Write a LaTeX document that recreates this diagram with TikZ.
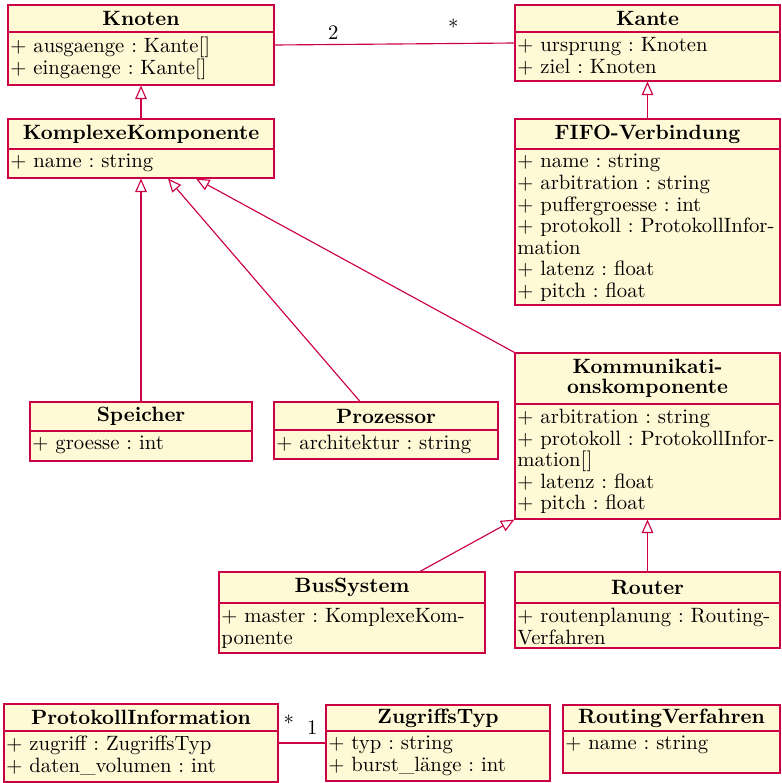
\documentclass[tikz,border=0pt]{standalone}
\usetikzlibrary{arrows.meta,fit}
\definecolor{umlred}{RGB}{204,0,68}
\definecolor{umlfill}{RGB}{255,249,214}
\tikzset{
  clsbox/.style={draw=umlred, fill=umlfill, line width=0.55pt, inner sep=0pt, rectangle},
  clsdiv/.style={draw=umlred, line width=0.55pt},
  clstitle/.style={font=\fontsize{10}{9.4}\selectfont\bfseries, align=center, inner sep=0pt},
  clsattr/.style={anchor=north west, align=left, inner xsep=1pt, inner ysep=2.4pt,
    font=\fontsize{10}{10.4}\selectfont},
  inh/.style={draw=umlred, line width=0.55pt, -{Triangle[open, length=6.5pt, width=5.6pt]}},
  assoc/.style={draw=umlred, line width=0.55pt},
  mult/.style={inner sep=1pt},
}
% class box: name, x1, y1, x2, ydiv, y2, title, attributes
\newcommand\umlclass[8]{%
  \node[clsbox, fit={(#2,#3) (#4,#6)}] (#1) {};
  \draw[clsdiv] (#2,#5) -- (#4,#5);
  \node[clstitle] (#1-t) at ({(#2+#4)/2},{(#3+#5)/2}) {#7};
  \pgfmathsetmacro\attrwidth{(#4-#2)*0.4831-2}%
  \node[clsattr, text width=\attrwidth pt] (#1-a) at (#2,#5) {#8};
}
\frenchspacing
\begin{document}
\begin{tikzpicture}[x=0.4831pt, y=-0.4831pt]
\useasboundingbox (0,0) rectangle (781,783);

\umlclass{knoten}{8}{5}{274}{32}{85}{Knoten}
  {+ ausgaenge : Kante[]\\+ eingaenge : Kante[]}
\umlclass{kk}{8}{119}{274}{149}{178}{KomplexeKomponente}
  {+ name : string}
\umlclass{kante}{515}{5}{780}{32}{81}{Kante}
  {+ ursprung : Knoten\\+ ziel : Knoten}
\umlclass{fifo}{515}{119}{780}{149}{305}{FIFO-Verbindung}
  {+ name : string\\+ arbitration : string\\+ puffergroesse : int\\+ protokoll : ProtokollInfor-\\mation\\+ latenz : float\\+ pitch : float}
\umlclass{speicher}{30}{402}{252}{431}{461}{Speicher}
  {+ groesse : int}
\umlclass{proz}{274}{402}{498}{430}{459}{Prozessor}
  {+ architektur : string}
\umlclass{komm}{515}{353}{780}{404}{519}{Kommunikati-\\onskomponente}
  {+ arbitration : string\\+ protokoll : ProtokollInfor-\\mation[]\\+ latenz : float\\+ pitch : float}
\umlclass{bus}{219}{572}{485}{603}{653}{BusSystem}
  {+ master : KomplexeKom-\\ponente}
\umlclass{router}{515}{572}{780}{603}{648}{Router}
  {+ routenplanung : Routing-\\Verfahren}
\umlclass{proto}{4}{704}{278}{731}{782}{ProtokollInformation}
  {+ zugriff : ZugriffsTyp\\+ daten\_volumen : int}
\umlclass{zug}{326}{705}{550}{731}{781}{ZugriffsTyp}
  {+ typ : string\\+ burst\_länge : int}
\umlclass{routing}{563}{705}{780}{731}{773}{RoutingVerfahren}
  {+ name : string}

% generalisations
\draw[inh] (kk.north) -- (knoten.south);
\draw[inh] (fifo.north) -- (kante.south);
\draw[inh] (speicher.north) -- (kk.south);
\draw[inh] ([shift={(-26,0)}]proz.north) -- ([shift={(27,0)}]kk.south);
\draw[inh] (komm.north west) -- ([shift={(55,0)}]kk.south);
\draw[inh] ([shift={(68,0)}]bus.north) -- (komm.south west);
\draw[inh] (router.north) -- (komm.south);

% associations
\draw[assoc] (knoten.east) -- node[mult, pos=0.245, above=1pt] (m-kn) {2}
  node[mult, pos=0.745, above=3pt] (m-ka) {*} (kante.west);
\draw[assoc] (proto.east) -- node[mult, pos=0.22, above=5pt] (m-pi) {*}
  node[mult, pos=0.72, above=3pt] (m-zt) {1} (zug.west);
\end{tikzpicture}
\end{document}
